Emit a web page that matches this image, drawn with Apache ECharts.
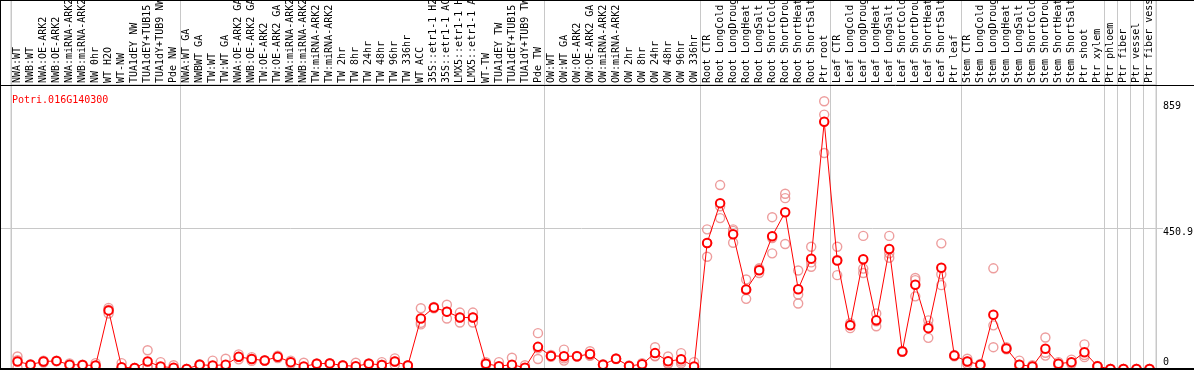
<!DOCTYPE html>
<html>
<head>
<meta charset="utf-8">
<script src="https://cdn.jsdelivr.net/npm/echarts@6/dist/echarts.min.js"></script>
<style>
html,body{margin:0;padding:0;background:#fff;}
#chart{width:1194px;height:370px;}
</style>
</head>
<body>
<div id="chart"></div>
<script>
const geneId = 'Potri.016G140300';

const categories = [
  'NWA:WT','NWB:WT','NWA:OE-ARK2','NWB:OE-ARK2','NWA:miRNA-ARK2','NWB:miRNA-ARK2','NW 0hr','WT H2O','WT-NW','TUA1dEY NW',
  'TUA1dEY+TUB15 NW','TUA1dY+TUB9 NW','Pde NW','NWA:WT GA','NWBWT GA','TW:WT','TW:WT GA','NWA:OE-ARK2 GA','NWB:OE-ARK2 GA','TW:OE-ARK2',
  'TW:OE-ARK2 GA','NWA:miRNA-ARK2','NWB:miRNA-ARK2','TW:miRNA-ARK2','TW:miRNA-ARK2','TW 2hr','TW 8hr','TW 24hr','TW 48hr','TW 96hr',
  'TW 336hr','WT ACC','35S::etr1-1 H2O','35S::etr1-1 ACC','LMX5::etr1-1 H2O','LMX5::etr1-1 ACC','WT-TW','TUA1dEY TW','TUA1dEY+TUB15 TW','TUA1dY+TUB9 TW',
  'Pde TW','OW:WT','OW:WT GA','OW:OE-ARK2','OW:OE-ARK2 GA','OW:miRNA-ARK2','OW:miRNA-ARK2','OW 2hr','OW 8hr','OW 24hr',
  'OW 48hr','OW 96hr','OW 336hr','Root CTR','Root LongCold','Root LongDrought','Root LongHeat','Root LongSalt','Root ShortCold','Root ShortDrought',
  'Root ShortHeat','Root ShortSalt','Ptr root','Leaf CTR','Leaf LongCold','Leaf LongDrought','Leaf LongHeat','Leaf LongSalt','Leaf ShortCold','Leaf ShortDrought',
  'Leaf ShortHeat','Leaf ShortSalt','Ptr leaf','Stem CTR','Stem LongCold','Stem LongDrought','Stem LongHeat','Stem LongSalt','Stem ShortCold','Stem ShortDrought',
  'Stem ShortHeat','Stem ShortSalt','Ptr shoot','Ptr xylem','Ptr phloem','Ptr fiber','Ptr vessel','Ptr fiber vessel'
];

const meanValues = [
  24,14,24,26,14,13,11,188,6,3,
  24,8,4,0,14,11,14,39,32,27,
  39,22,8,17,18,11,9,17,13,24,
  11,162,197,184,165,165,17,9,14,4,
  71,42,41,41,48,14,33,10,15,51,
  25,31,8,404,532,432,255,317,426,503,
  256,354,793,348,140,352,156,385,56,270,
  131,325,43,24,14,174,66,14,8,65,
  17,22,54,9,0,0,0,0
];

const rep1 = [
  40,15,27,27,18,14,19,196,19,3,
  60,22,12,0,15,27,33,47,38,28,
  43,27,20,18,19,12,20,18,22,34,
  12,195,199,206,181,181,22,22,36,12,
  115,45,62,42,57,15,34,11,19,70,
  40,51,22,448,590,448,287,323,487,562,
  316,392,859,392,147,427,178,427,58,292,
  156,403,45,33,16,323,70,27,12,101,
  22,30,79,10,0,0,0,0
];
const rep2 = [
  28,14,24,26,12,13,10,190,2,3,
  8,2,0,0,14,5,7,39,32,27,
  39,22,4,17,18,11,4,17,14,24,
  11,148,197,184,165,165,17,4,5,0,
  66,42,34,41,45,14,33,10,14,42,
  18,24,2,404,522,443,253,320,420,548,
  239,342,816,350,142,322,153,371,55,285,
  138,304,43,24,14,140,65,14,8,52,
  17,20,45,9,0,0,0,0
];
const rep3 = [
  4,13,21,25,12,12,4,178,0,3,
  4,0,0,0,13,1,2,31,26,26,
  35,17,0,16,17,10,3,16,4,14,
  10,143,195,162,149,149,12,1,2,0,
  32,39,27,40,42,13,32,9,13,41,
  17,18,0,360,484,405,225,308,371,401,
  210,328,693,301,131,308,137,357,55,233,
  100,269,41,16,12,70,63,3,4,43,
  12,16,38,8,0,0,0,0
];

const yLabelValues = [0, 450.9, 859];
const gridLineValue = 450.9;
const groupStarts = [0, 13, 41, 53, 63, 73, 84, 85, 86, 87];

const replicatePoints = [];
[rep1, rep2, rep3].forEach(function (arr) {
  arr.forEach(function (v, i) { replicatePoints.push([i, v]); });
});

const mono = '"DejaVu Sans Mono", "Liberation Mono", monospace';
const sepColor = '#c8c8c8';
const splitFn = function (index) { return groupStarts.indexOf(index) >= 0; };

const chart = echarts.init(document.getElementById('chart'), null, {renderer: 'canvas'});

const option = {
  animation: false,
  backgroundColor: '#fff',
  title: {
    text: geneId, left: 7, top: 90,
    textStyle: {color: '#ff0000', fontSize: 10, fontWeight: 'normal', fontFamily: mono}
  },
  grid: [
    {left: 11, right: 38, top: 0, height: 85, show: true, borderColor: sepColor, borderWidth: 1, outerBoundsMode: 'none', containLabel: false},
    {left: 11, right: 38, top: 85, bottom: 1, show: true, borderColor: sepColor, borderWidth: 1, outerBoundsMode: 'none', containLabel: false}
  ],
  xAxis: [
    {
      gridIndex: 0, type: 'category', data: categories, boundaryGap: true,
      axisLine: {show: false}, axisTick: {show: false}, axisLabel: {show: false},
      splitLine: {show: true, interval: splitFn, lineStyle: {color: sepColor, width: 1}}
    },
    {
      gridIndex: 1, type: 'category', data: categories, boundaryGap: true, position: 'top',
      axisLine: {show: true, lineStyle: {color: '#000', width: 1}},
      axisTick: {show: false},
      axisLabel: {interval: 0, rotate: 90, margin: 2, color: '#000', fontSize: 10, fontFamily: mono, hideOverlap: false},
      splitLine: {show: true, interval: splitFn, lineStyle: {color: sepColor, width: 1}}
    }
  ],
  yAxis: [
    {gridIndex: 0, type: 'value', show: false, min: 0, max: 1},
    {
      gridIndex: 1, type: 'value', position: 'right', min: 0, max: 911,
      axisLine: {show: false}, axisTick: {show: false}, splitLine: {show: false},
      axisLabel: {
        customValues: yLabelValues, margin: 7, color: '#000', fontSize: 10, fontFamily: mono,
        formatter: function (v) {
          if (v === 0) return '{b|0}';
          if (v === 859) return '{t|859}';
          return '{m|' + v + '}';
        },
        rich: {
          t: {padding: [11, 0, 0, 0], fontSize: 10, fontFamily: mono, color: '#000'},
          m: {padding: [7, 0, 0, 0], fontSize: 10, fontFamily: mono, color: '#000'},
          b: {padding: [0, 0, 14, 0], fontSize: 10, fontFamily: mono, color: '#000'}
        }
      }
    }
  ],
  series: [
    {
      type: 'scatter', xAxisIndex: 1, yAxisIndex: 1, data: replicatePoints, z: 2,
      symbol: 'circle', symbolSize: 9,
      itemStyle: {color: 'rgba(0,0,0,0)', borderColor: '#e88585', borderWidth: 1.4}
    },
    {
      type: 'line', xAxisIndex: 1, yAxisIndex: 1, data: meanValues, z: 3,
      symbol: 'emptyCircle', symbolSize: 8.5, showAllSymbol: true,
      lineStyle: {color: '#ff0000', width: 1},
      itemStyle: {color: '#ff0000', borderColor: '#ff0000', borderWidth: 1.6}
    }
  ]
};
chart.setOption(option);

// frame lines and the horizontal grid line, positioned through the axis scale
const gy = chart.convertToPixel({yAxisIndex: 1}, gridLineValue);
chart.setOption({
  graphic: [
    {type: 'line', z: 0, shape: {x1: 0, y1: Math.round(gy) + 0.5, x2: 1163, y2: Math.round(gy) + 0.5}, style: {stroke: sepColor, lineWidth: 1}},
    {type: 'line', z: 10, shape: {x1: 0, y1: 0.5, x2: 1194, y2: 0.5}, style: {stroke: '#000', lineWidth: 1}},
    {type: 'line', z: 10, shape: {x1: 0, y1: 85.5, x2: 1194, y2: 85.5}, style: {stroke: '#000', lineWidth: 1}},
    {type: 'line', z: 10, shape: {x1: 0, y1: 369, x2: 1194, y2: 369}, style: {stroke: '#000', lineWidth: 2}},
    {type: 'line', z: 10, shape: {x1: 0.5, y1: 0, x2: 0.5, y2: 370}, style: {stroke: '#000', lineWidth: 1}}
  ]
});
</script>
</body>
</html>
